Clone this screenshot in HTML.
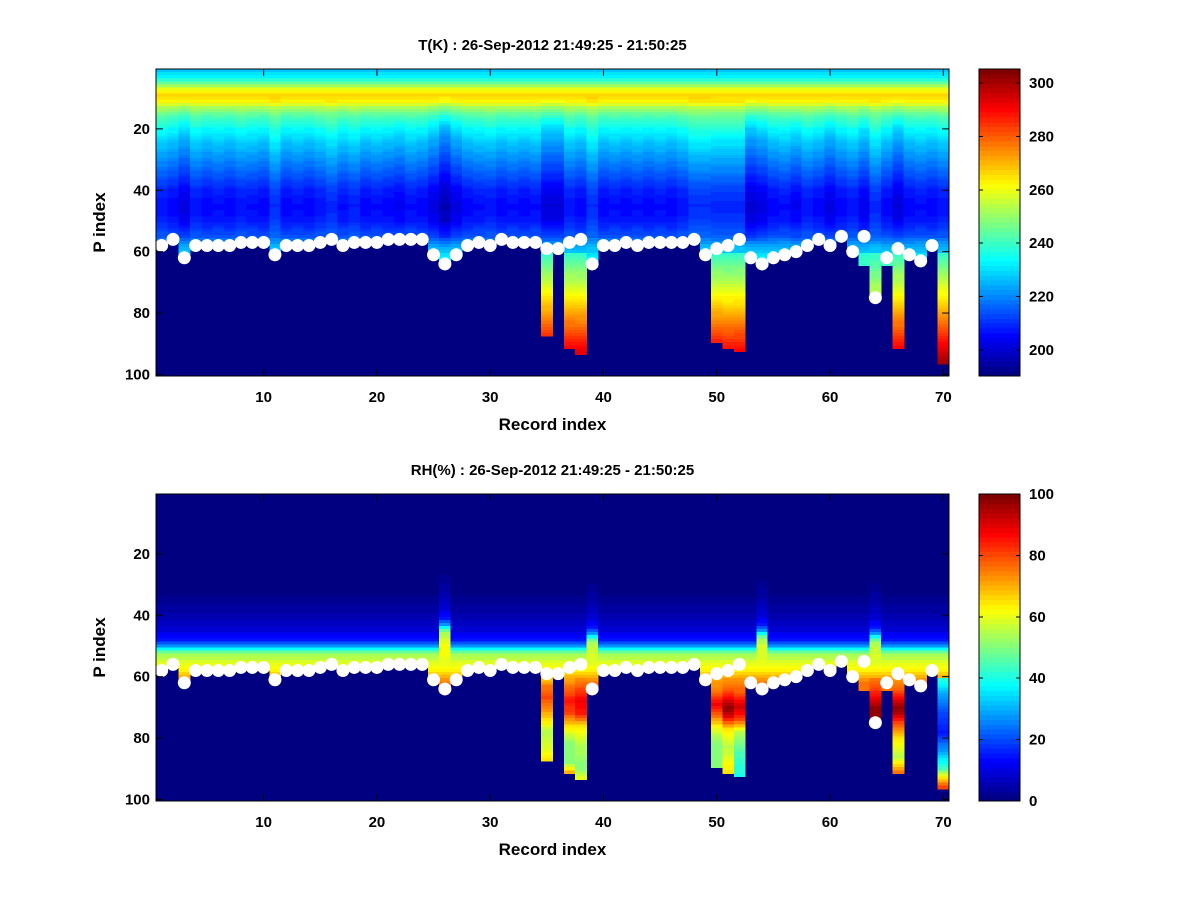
<!DOCTYPE html>
<html><head><meta charset="utf-8"><style>
body{margin:0;background:#fff}
svg{display:block}
text{font-family:"Liberation Sans",sans-serif;font-weight:bold;fill:#000}
</style></head><body>
<svg id="fig" width="1200" height="900" viewBox="0 0 1200 900"></svg>
<script>
// ---- data ----
const records = Array.from({length:70},(_,k)=>k+1);
const surfaceIdx = [58,56,62,58,58,58,58,57,57,57,61,58,58,58,57,56,58,57,57,57,56,56,56,56,61,64,61,58,57,58,56,57,57,57,59,59,57,56,64,58,58,57,58,57,57,57,57,56,61,59,58,56,62,64,62,61,60,58,56,58,55,60,55,75,62,59,61,63,58,59];
const showDot = records.map(r=>r!==70);
const bottomOverride = {35:87,37:91,38:93,50:89,51:91,52:92,63:64,64:74,65:64,66:91,70:96};
const tRows = [1,3,5,7,9,11,13,16,20,25,30,35,40,45,50,55,58,62];
const tVals = [228,232,245,260,267,263,252,242,233,226,220,214,208,205,207,214,224,232];
const tOffset = [2,0,-3,2,0,1,0,2,1,0,5,0,1,0,2,4,1,3,0,1,0,-1,1,0,-3,-8,-3,0,1,2,0,1,0,1,-4,-4,2,0,5,0,1,0,1,0,1,0,2,5,5,4,4,4,-5,-3,0,1,-1,2,0,-3,0,2,-2,4,0,-4,0,1,0,2];
const tBottom = {35:285,37:290,38:293,50:286,51:288,52:290,63:240,64:255,65:240,66:290,70:300};
const rhRows = [1,30,35,40,45,48,50,51,52,53,55,58,60,62,100];
const rhVals = [0,0,2,5,9,15,28,38,48,54,58,64,70,75,75];
const rhShift = {26:7,39:4,54:5,64:4};
const rhExtRows = {35:[60,63,67,72,78,84,87],37:[58,63,68,72,76,82,88,91],38:[58,63,68,72,76,82,90,93],50:[60,65,69,73,77,82,89],51:[60,65,70,73,77,83,91],52:[58,65,70,74,78,85,92],64:[61,66,70,74],66:[60,65,70,72,75,80,86,91],70:[60,65,72,78,85,90,93,96]};
const rhExtVals = {35:[65,75,80,70,55,60,65],37:[65,75,85,80,65,50,50,70],38:[70,78,88,85,65,55,50,60],50:[70,75,88,75,60,50,50],51:[70,80,98,90,65,55,65],52:[70,78,92,80,55,45,40],64:[75,85,98,98],66:[70,80,98,95,80,65,55,75],70:[45,30,20,15,30,45,65,80]};
const tTicks = [200,220,240,260,280,300];
const rhTicks = [0,20,40,60,80,100];
const xTicks = [10,20,30,40,50,60,70];
const yTicks = [20,40,60,80,100];

// ---- helpers ----
const NS="http://www.w3.org/2000/svg";
const svg=document.getElementById('fig');
function el(tag,attrs,parent){const e=document.createElementNS(NS,tag);for(const k in attrs)e.setAttribute(k,attrs[k]);(parent||svg).appendChild(e);return e;}
function interp(xs,ys,x){if(x<=xs[0])return ys[0];for(let i=1;i<xs.length;i++){if(x<=xs[i]){const f=(x-xs[i-1])/(xs[i]-xs[i-1]);return ys[i-1]+f*(ys[i]-ys[i-1]);}}return ys[ys.length-1];}
function jet(t){t=Math.max(0,Math.min(1,t));t=Math.min(63,Math.floor(t*64))/63;const c=v=>Math.round(255*Math.max(0,Math.min(1,v)));return `rgb(${c(1.5-Math.abs(4*t-3))},${c(1.5-Math.abs(4*t-2))},${c(1.5-Math.abs(4*t-1))})`;}
function bottomOf(r){return bottomOverride[r]!==undefined?bottomOverride[r]:surfaceIdx[r-1];}
function tempAt(r,row){
  const b=bottomOf(r);
  if(row>60&&tBottom[r]!==undefined&&b>60){return 238+(tBottom[r]-238)*(row-60)/Math.max(1,b-60);}
  let v=interp(tRows,tVals,row);
  const w=row<8?0:row<20?(row-8)/12:row<50?1:Math.max(0,(60-row)/10);
  v+=tOffset[r-1]*w;
  if(tBottom[r]!==undefined&&row>60)v=240;
  return v;
}
function rhAt(r,row){
  if(row>60&&rhExtRows[r])return interp(rhExtRows[r],rhExtVals[r],row);
  const s=rhShift[r]||0;
  const w=row<50?1:Math.max(0,(56-row)/6);
  return interp(rhRows,rhVals,row+s*w);
}

function panel(cfg){
  const L=156,R=949,T=cfg.top,B=cfg.top+307;
  const xs=v=>L+(v-0.5)*(R-L)/70;
  const ys=v=>T+(v-0.5)*(B-T)/100;
  const g=el('g',{},svg);
  
  
  const bg=el('rect',{x:L,y:T,width:R-L,height:B-T,fill:'rgb(0,0,128)'},g);
  
  
  const cells=el('g',{'shape-rendering':'crispEdges'},g);
  
  
  const cw=(R-L)/70,ch=(B-T)/100;
  records.forEach(r=>{
    const b=bottomOf(r);
    for(let row=1;row<=b;row++){
      const v=cfg.valueAt(r,row);
      const c=el('rect',{x:(xs(r)-cw/2).toFixed(2),y:(ys(row)-ch/2).toFixed(2),width:(cw+0.6).toFixed(2),height:(ch+0.6).toFixed(2),fill:jet((v-cfg.min)/(cfg.max-cfg.min))},cells);
      
      
    }
  });
  records.forEach(r=>{
    if(!showDot[r-1])return;
    const d=el('circle',{cx:xs(r),cy:ys(surfaceIdx[r-1]),r:6.5,fill:'#fff'},g);
    
    
  });
  const fr=el('rect',{x:L,y:T,width:R-L,height:B-T,fill:'none',stroke:'#000','stroke-width':1},g);
  
  
  xTicks.forEach(v=>{
    const x=xs(v);
    el('line',{x1:x,y1:B,x2:x,y2:B-7,stroke:'#000'},g);
    el('line',{x1:x,y1:T,x2:x,y2:T+7,stroke:'#000'},g);
    const t=el('text',{x:x,y:B+26,'text-anchor':'middle','font-size':15},g);t.textContent=v;
    
    
  });
  yTicks.forEach(v=>{
    const y=ys(v);
    el('line',{x1:L,y1:y,x2:L+7,y2:y,stroke:'#000'},g);
    el('line',{x1:R,y1:y,x2:R-7,y2:y,stroke:'#000'},g);
    const t=el('text',{x:L-6,y:y+5,'text-anchor':'end','font-size':15},g);t.textContent=v;
    
    
  });
  const ti=el('text',{x:(L+R)/2,y:T-19,'text-anchor':'middle','font-size':15},g);ti.textContent=cfg.title;
  
  
  const xl=el('text',{x:(L+R)/2,y:B+54,'text-anchor':'middle','font-size':17},g);xl.textContent='Record index';
  
  
  const yl=el('text',{x:0,y:0,'text-anchor':'middle','font-size':17,transform:`translate(105,${(T+B)/2}) rotate(-90)`},g);yl.textContent='P index';
  
  
  // colorbar
  const cb=el('g',{'shape-rendering':'crispEdges'},svg);
  
  
  const CL=979,CR=1020,h=(B-T)/64;
  for(let k=0;k<64;k++){
    el('rect',{x:CL,y:(B-(k+1)*h).toFixed(2),width:CR-CL,height:(h+0.5).toFixed(2),fill:jet((k+0.5)/64)},cb);
  }
  el('rect',{x:CL,y:T,width:CR-CL,height:B-T,fill:'none',stroke:'#000'},cb);
  const cy=v=>B-(v-cfg.min)/(cfg.max-cfg.min)*(B-T);
  cfg.ticks.forEach(v=>{
    const y=cy(v);
    el('line',{x1:CL,y1:y,x2:CL+4,y2:y,stroke:'#000'},cb);
    el('line',{x1:CR,y1:y,x2:CR-4,y2:y,stroke:'#000'},cb);
    const t=el('text',{x:CR+9,y:y+5,'font-size':15},cb);t.textContent=v;
    
    
  });
}
panel({name:'temperature',top:69,title:'T(K) : 26-Sep-2012 21:49:25 - 21:50:25',min:190.3,max:305.2,ticks:tTicks,valueAt:tempAt});
panel({name:'humidity',top:494,title:'RH(%) : 26-Sep-2012 21:49:25 - 21:50:25',min:0,max:100,ticks:rhTicks,valueAt:rhAt});
</script>
</body></html>
